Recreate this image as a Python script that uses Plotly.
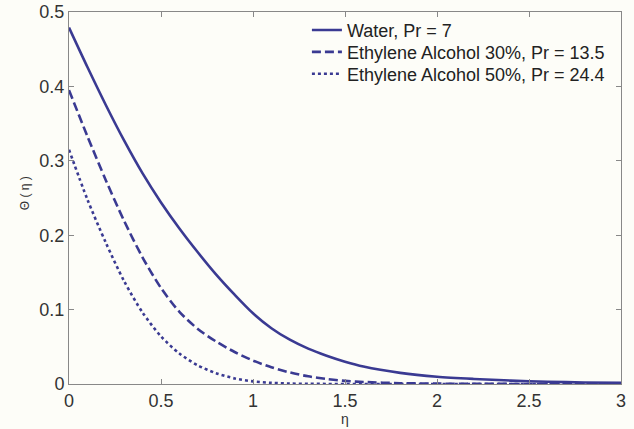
import plotly.graph_objects as go

eta = [0, 0.1, 0.2, 0.3, 0.4, 0.5, 0.6, 0.7, 0.8, 0.9, 1.0, 1.1, 1.2, 1.3, 1.4, 1.5, 1.6, 1.8, 2.0, 2.2, 2.4, 2.6, 2.8, 3.0]
water = [0.479, 0.426, 0.375, 0.327, 0.283, 0.244, 0.209, 0.177, 0.147, 0.120, 0.095, 0.075, 0.0595, 0.0475, 0.038, 0.030, 0.0235, 0.015, 0.0098, 0.0068, 0.0046, 0.0031, 0.0021, 0.0015]
eth30 = [0.395, 0.333, 0.274, 0.219, 0.170, 0.129, 0.097, 0.074, 0.057, 0.043, 0.0315, 0.0225, 0.0155, 0.0103, 0.0067, 0.0042, 0.0027, 0.0011, 0.0005, 0.0002, 0.0001, 0.0, 0.0, 0.0]
eth50 = [0.315, 0.248, 0.190, 0.138, 0.096, 0.064, 0.041, 0.025, 0.0145, 0.0075, 0.0035, 0.0015, 0.0006, 0.0002, 0.0001, 0.0, 0.0, 0.0, 0.0, 0.0, 0.0, 0.0, 0.0, 0.0]
names = ["Water, Pr = 7", "Ethylene Alcohol 30%, Pr = 13.5", "Ethylene Alcohol 50%, Pr = 24.4"]

xtick_vals = [0, 0.5, 1, 1.5, 2, 2.5, 3]
xtick_text = ["0", "0.5", "1", "1.5", "2", "2.5", "3"]
ytick_vals = [0, 0.1, 0.2, 0.3, 0.4, 0.5]
ytick_text = ["0", "0.1", "0.2", "0.3", "0.4", "0.5"]

color = "#3a3a92"
fig = go.Figure()
fig.add_trace(go.Scatter(x=eta, y=water, name=names[0], mode="lines", legend="legend",
                         line=dict(color=color, width=2.6, shape="spline", smoothing=0.8)))
fig.add_trace(go.Scatter(x=eta, y=eth30, name=names[1], mode="lines", legend="legend2",
                         line=dict(color=color, width=2.6, dash="9px,4px", shape="spline", smoothing=0.8)))
fig.add_trace(go.Scatter(x=eta, y=eth50, name=names[2], mode="lines", legend="legend3",
                         line=dict(color=color, width=2.6, dash="3px,3px", shape="spline", smoothing=0.8)))

font_fam = "Liberation Sans, Arial, sans-serif"
leg_common = dict(x=0.431, xanchor="left", yanchor="middle",
                  bgcolor="rgba(0,0,0,0)", borderwidth=0,
                  font=dict(family=font_fam, size=18, color="#222222"))
fig.update_layout(
    width=634, height=429,
    margin=dict(l=69, r=13, t=12, b=45, autoexpand=False),
    paper_bgcolor="#fdfdf8", plot_bgcolor="#fdfdf8",
    font=dict(family=font_fam, size=18, color="#333333"),
    showlegend=True,
    legend=dict(y=0.951, **leg_common),
    legend2=dict(y=0.892, **leg_common),
    legend3=dict(y=0.833, **leg_common),
)
fig.update_xaxes(range=[0, 3], tickvals=xtick_vals, ticktext=xtick_text,
                 ticks="inside", ticklen=5, tickcolor="#888888",
                 showline=True, linecolor="#888888", linewidth=1, mirror="ticks",
                 showgrid=False, zeroline=False, automargin=False)
fig.update_yaxes(range=[0, 0.5], tickvals=ytick_vals, ticktext=ytick_text,
                 ticks="inside", ticklen=5, tickcolor="#888888",
                 showline=True, linecolor="#888888", linewidth=1, mirror="ticks",
                 showgrid=False, zeroline=False, automargin=False,
                 ticklabeloverflow="allow")
fig.add_annotation(text="Θ ( η )", xref="paper", yref="paper", x=-0.0797, y=0.513,
                   xanchor="center", yanchor="middle", textangle=-90, showarrow=False,
                   font=dict(size=12, color="#333333"))
fig.add_annotation(text="η", xref="paper", yref="paper", x=0.5, y=-0.095,
                   xanchor="center", yanchor="middle", showarrow=False,
                   font=dict(size=14, color="#333333"))

fig.write_html("out.html", config={"displayModeBar": False},
               post_script="document.body.style.margin='0px';document.body.style.background='#fdfdf8';")
